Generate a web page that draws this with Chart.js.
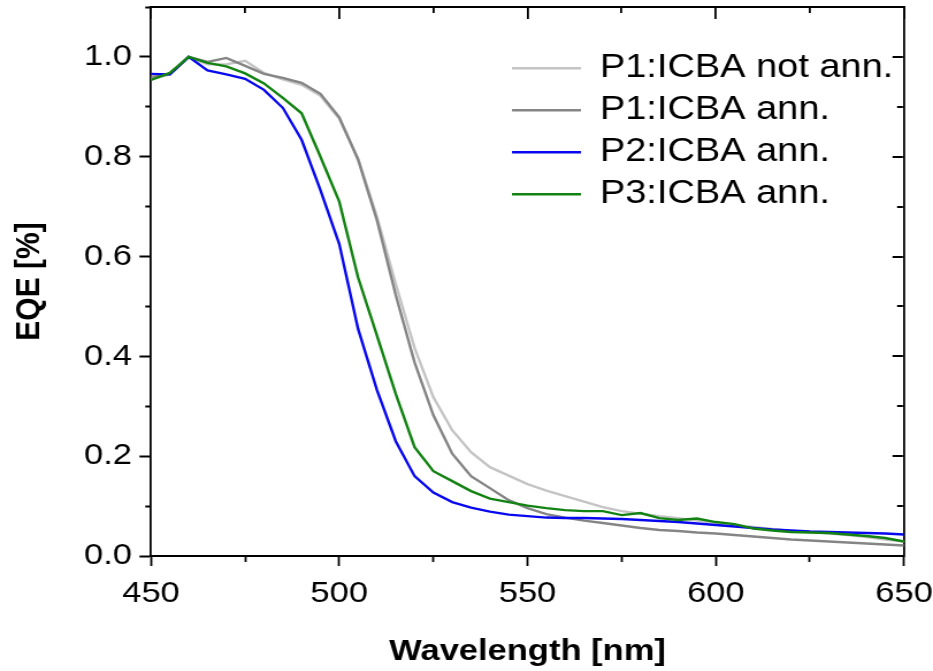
<!DOCTYPE html>
<html>
<head>
<meta charset="utf-8">
<script src="https://cdn.jsdelivr.net/npm/chart.js@4.4.1/dist/chart.umd.min.js"></script>
<style>
html, body { margin: 0; padding: 0; background: #fff; overflow: hidden; }
#wrap { width: 811px; height: 671px; transform: scaleX(1.15043); transform-origin: 0 0; }
#c { display: block; }
</style>
</head>
<body>
<div id="wrap"><canvas id="c" width="811" height="671"></canvas></div>
<script>
// ---- data ----
const wavelengths = [450,455,460,465,470,475,480,485,490,495,500,505,510,515,520,525,530,535,540,545,
                     550,555,560,565,570,575,580,585,590,595,600,605,610,615,620,625,630,635,640,645,650];
const p1NotAnn = [0.955,0.965,1.000,0.985,0.985,0.992,0.968,0.955,0.944,0.922,0.876,0.796,0.680,0.545,0.417,0.318,0.252,0.208,0.178,0.161,
                  0.144,0.131,0.120,0.109,0.098,0.090,0.085,0.080,0.076,0.071,0.066,0.062,0.058,0.054,0.050,0.048,0.045,0.042,0.038,0.033,0.029];
const p1Ann    = [0.960,0.965,1.000,0.990,0.998,0.982,0.966,0.958,0.948,0.926,0.879,0.794,0.673,0.523,0.388,0.282,0.205,0.160,0.136,0.112,
                  0.096,0.084,0.077,0.071,0.066,0.061,0.056,0.052,0.050,0.047,0.045,0.042,0.039,0.036,0.033,0.031,0.029,0.027,0.025,0.023,0.021];
const p2Ann    = [0.966,0.965,1.000,0.973,0.965,0.956,0.934,0.898,0.834,0.733,0.625,0.455,0.333,0.230,0.160,0.127,0.108,0.097,0.089,0.083,
                  0.080,0.077,0.076,0.076,0.075,0.074,0.072,0.070,0.068,0.065,0.062,0.059,0.056,0.053,0.051,0.049,0.048,0.047,0.046,0.045,0.043];
const p3Ann    = [0.954,0.968,1.000,0.988,0.981,0.967,0.947,0.918,0.887,0.800,0.710,0.558,0.442,0.325,0.218,0.170,0.150,0.130,0.115,0.108,
                  0.101,0.096,0.092,0.090,0.090,0.082,0.086,0.076,0.072,0.075,0.068,0.064,0.055,0.051,0.048,0.047,0.046,0.043,0.040,0.036,0.029];
const seriesLabels = ['P1:ICBA not ann.', 'P1:ICBA ann.', 'P2:ICBA ann.', 'P3:ICBA ann.'];
const seriesColors = ['#c4c4c4', '#858585', '#0808ee', '#128312'];
const xMin = 450, xMax = 650, xStep = 25, xMajor = 50;
const yMin = 0, yMax = 1.1, yStep = 0.1;
const xTitle = 'Wavelength [nm]';
const yTitle = 'EQE [%]';

// ---- helpers ----
const toPoints = (ys) => wavelengths.map((w, i) => ({ x: w, y: ys[i] }));
const isMajorX = (v) => Math.round(v) % xMajor === 0;
const isMajorY = (v) => Math.round(v * 10) % 2 === 0;
const tickVal = (ctx) => (ctx && ctx.tick ? ctx.tick.value : null);

const FONT = "'Liberation Sans', Arial, sans-serif";
Chart.defaults.font.family = FONT;
Chart.defaults.color = '#000';

// legend moved inside the plot area
const legendBox = {
  id: 'legendBox',
  afterInit(chart) {
    const lg = chart.legend;
    const fit = lg.fit;
    lg.fit = function () { fit.call(this); this.width = 0; };
  },
  afterLayout(chart, args, opts) {
    const lg = chart.legend;
    lg.left = opts.left; lg.top = opts.top;
    lg.width = 400; lg.height = 200;
    lg.right = opts.left + 400; lg.bottom = opts.top + 200;
  }
};

const series = [p1NotAnn, p1Ann, p2Ann, p3Ann];
const datasets = series.map((s, i) => ({
  label: seriesLabels[i],
  data: toPoints(s),
  borderColor: seriesColors[i],
  backgroundColor: seriesColors[i],
  borderWidth: 2.4,
  pointRadius: 0,
  tension: 0,
  fill: false,
  order: series.length - i
}));

new Chart(document.getElementById('c'), {
  type: 'line',
  data: { datasets },
  plugins: [legendBox],
  options: {
    responsive: false,
    animation: false,
    events: [],
    layout: { padding: { top: 7, right: 25.2, left: 0, bottom: 0 } },
    plugins: {
      tooltip: { enabled: false },
      legendBox: { left: 436, top: 42.8 },
      legend: {
        display: true,
        position: 'right',
        align: 'start',
        labels: {
          usePointStyle: true,
          pointStyle: 'line',
          pointStyleWidth: 60,
          padding: 9,
          color: '#000',
          font: { size: 33, family: FONT },
          sort: (a, b) => a.datasetIndex - b.datasetIndex
        }
      }
    },
    scales: {
      x: {
        type: 'linear', position: 'bottom', min: xMin, max: xMax,
        ticks: {
          stepSize: xStep, autoSkip: false, maxRotation: 0, padding: 10,
          color: '#000', font: { size: 30, family: FONT },
          callback: (v) => (isMajorX(v) ? String(v) : '')
        },
        grid: {
          drawOnChartArea: false, drawTicks: true, tickLength: 10, tickWidth: 1.8, tickColor: '#000',
          tickBorderDash: (ctx) => (isMajorX(tickVal(ctx)) ? [] : [5, 100])
        },
        border: { display: true, color: '#000', width: 2 },
        title: { display: true, text: xTitle, color: '#000', font: { size: 30, weight: 'bold', family: FONT }, padding: { top: 0, bottom: 1 } },
        afterFit: (s) => { s.height = 115; s.paddingLeft = 0; s.paddingRight = 0; }
      },
      x2: {
        type: 'linear', position: 'top', min: xMin, max: xMax,
        ticks: { display: false, stepSize: xStep, autoSkip: false },
        grid: { display: true, drawOnChartArea: true, drawTicks: false, color: '#000', lineWidth: 1.8 },
        border: {
          display: true, color: '#000', width: 2,
          dash: (ctx) => (isMajorX(tickVal(ctx)) ? [11, 3000] : [5, 3000])
        },
        afterFit: (s) => { s.height = 0; s.paddingLeft = 0; s.paddingRight = 0; }
      },
      y: {
        type: 'linear', position: 'left', min: yMin, max: yMax,
        ticks: {
          stepSize: yStep, autoSkip: false, padding: 6.5,
          color: '#000', font: { size: 30, family: FONT },
          callback: (v) => (isMajorY(v) ? Number(v).toFixed(1) : '')
        },
        grid: {
          drawOnChartArea: false, drawTicks: true, tickLength: 10, tickWidth: 2, tickColor: '#000',
          tickBorderDash: (ctx) => (isMajorY(tickVal(ctx)) ? [] : [0, 5, 5, 100])
        },
        border: { display: true, color: '#000', width: 1.8 },
        title: { display: true, text: yTitle, color: '#000', font: { size: 30, weight: 'bold', family: FONT }, padding: { top: 8, bottom: 0 } },
        afterFit: (s) => { s.width = 131.26; s.paddingTop = 0; s.paddingBottom = 0; }
      },
      y2: {
        type: 'linear', position: 'right', min: yMin, max: yMax,
        ticks: { display: false, stepSize: yStep, autoSkip: false },
        grid: { display: true, drawOnChartArea: true, drawTicks: false, color: '#000', lineWidth: 2 },
        border: {
          display: true, color: '#000', width: 1.8,
          dash: (ctx) => {
            const a = ctx.chart.chartArea;
            const L = a ? (a.right - a.left - 1) : 650;
            const t = isMajorY(tickVal(ctx)) ? 9 : 5;
            return [0, L - t, t, 3000];
          }
        },
        afterFit: (s) => { s.width = 0; s.paddingTop = 0; s.paddingBottom = 0; }
      }
    }
  }
});
</script>
</body>
</html>
